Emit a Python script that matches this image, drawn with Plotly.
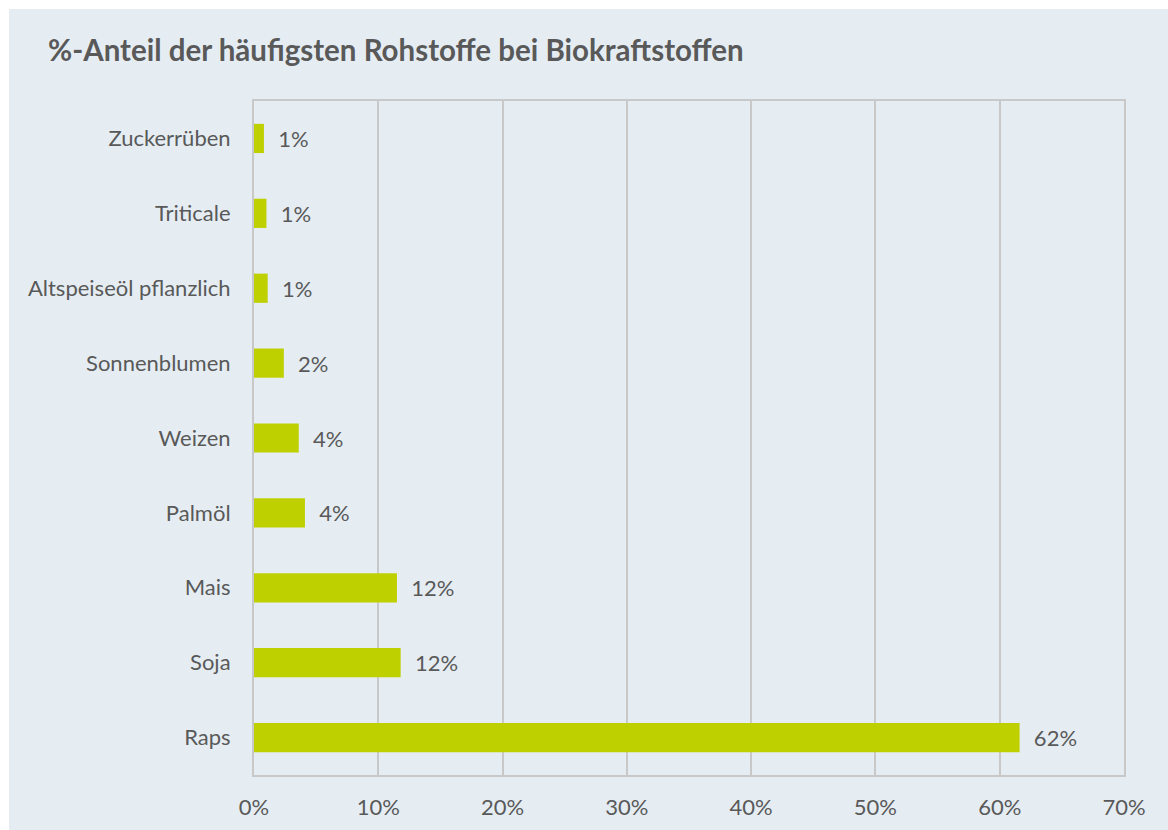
import plotly.graph_objects as go

categories = ["Raps", "Soja", "Mais", "Palmöl", "Weizen", "Sonnenblumen",
              "Altspeiseöl pflanzlich", "Triticale", "Zuckerrüben"]
values = [61.6, 11.8, 11.5, 4.1, 3.6, 2.4, 1.1, 1.0, 0.8]
tick_vals = [0, 10, 20, 30, 40, 50, 60, 70]
tick_text = ["0%", "10%", "20%", "30%", "40%", "50%", "60%", "70%"]

BG = "#E5EDF3"
BAR = "#BED000"
TXT = "#595959"
GRID = "#C8C8C8"
FONT = "Lato, 'Open Sans', sans-serif"

W, H = 1168, 830
L, R, T, B = 254, 44, 101, 55

fig = go.Figure(go.Bar(
    x=values, y=categories, orientation="h",
    marker=dict(color=BAR, line=dict(width=0)),
    texttemplate="  %{x:.0f}%", textposition="outside",
    textfont=dict(family=FONT, size=22, color=TXT),
    cliponaxis=False, hoverinfo="skip",
))

pw = W - L - R
ph = H - T - B
fig.add_shape(type="rect", xref="paper", yref="paper",
              x0=(9 - L) / pw, x1=(W - L + 5) / pw,
              y0=-(B + 5) / ph, y1=(H - 9 - B) / ph,
              fillcolor=BG, line=dict(width=0), layer="below")

fig.update_layout(
    width=W, height=H,
    margin=dict(l=L, r=R, t=T, b=B, pad=0, autoexpand=False),
    paper_bgcolor="white", plot_bgcolor=BG,
    bargap=0.61, showlegend=False,
    font=dict(family=FONT, color=TXT, size=22),
    title=dict(text="<b>%-Anteil der häufigsten Rohstoffe bei Biokraftstoffen</b>",
               x=48 / W, xanchor="left", y=1 - 51 / H, yanchor="middle",
               font=dict(family=FONT, size=29.5, color=TXT), automargin=False),
    xaxis=dict(range=[0, 70], tickvals=tick_vals, ticktext=tick_text,
               showgrid=True, gridcolor=GRID, gridwidth=2,
               showline=True, linecolor=GRID, linewidth=2, mirror=True,
               zeroline=False, ticks="", ticklabelstandoff=12, automargin=False,
               tickfont=dict(family=FONT, size=22, color=TXT), fixedrange=True),
    yaxis=dict(showgrid=False, showline=True, linecolor=GRID, linewidth=2,
               mirror=True, ticks="", ticklabelstandoff=17, automargin=False,
               tickfont=dict(family=FONT, size=22, color=TXT), fixedrange=True),
)

fig.write_html("out.html", config={"displayModeBar": False},
               post_script="document.body.style.margin='0';document.body.style.overflow='hidden';")
